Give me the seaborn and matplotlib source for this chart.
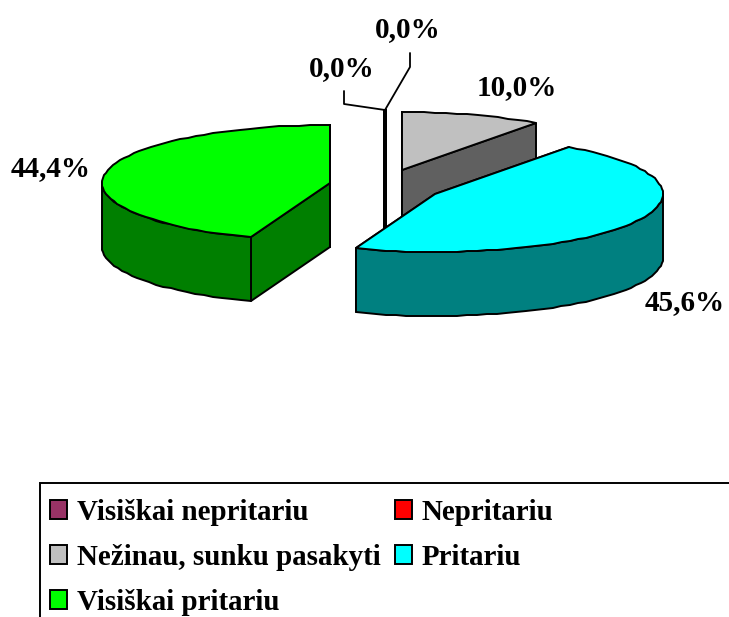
import numpy as np
import seaborn as sns
import matplotlib
matplotlib.use("Agg")
from matplotlib import pyplot as plt
from matplotlib.patches import Patch, Rectangle

# slices in pie order, clockwise from 12 o'clock
categories = ["Visiškai nepritariu", "Nepritariu", "Nežinau, sunku pasakyti", "Pritariu", "Visiškai pritariu"]
values = [0.0, 0.0, 10.0, 45.6, 44.4]
top_colors = ["#993366", "#FF0000", "#C0C0C0", "#00FFFF", "#00FF00"]
side_colors = ["#4D1A33", "#800000", "#606060", "#008080", "#007F00"]
legend_order = [0, 2, 4, 1, 3]

# exploded centre of every slice + where its label goes, in picture pixels
centers = [(384.5, 168), (386, 168), (402, 170), (435, 194), (330, 183)]
label_pos = [(342, 69), (408, 30), (517, 88), (685, 303), (51, 169)]
leaders = [[(385, 110), (344, 104), (344, 91)], [(385, 110), (410, 67), (410, 53)]]
RX, RY, DEPTH = 228, 58, 64

sns.set_theme(style="white")
plt.rcParams['font.family'] = ['Liberation Serif', 'DejaVu Serif']
sns.set_palette(top_colors)

fig = plt.figure(figsize=(7.29, 6.17), dpi=100)
ax = fig.add_axes([0, 0, 1, 1])
ax.set_xlim(0, 729)
ax.set_ylim(617, 0)
ax.axis("off")


def rim(center, a, b):
    # rim of the ellipse between two clockwise angles, snapped to pixels like the original
    n = max(2, int(abs(b - a) / 2.5))
    t = np.radians(np.linspace(a, b, n))
    return np.round(center[0] + RX * np.sin(t)), np.round(center[1] - RY * np.cos(t))


def draw_slice(center, a, b, top, side, z):
    kw = dict(edgecolor="black", linewidth=1.4, joinstyle="round", zorder=z)
    cx, cy = center
    # cut faces
    for ang in (a, b):
        x, y = rim(center, ang, ang)
        px, py = x[0], y[0]
        ax.fill([cx, px, px, cx], [cy, py, py + DEPTH, cy + DEPTH], facecolor=side, **kw)
    # outer wall, only the front half shows
    lo, hi = max(a, 90), min(b, 270)
    if hi > lo:
        x, y = rim(center, lo, hi)
        ax.fill(np.r_[x, x[::-1]], np.r_[y, y[::-1] + DEPTH], facecolor=side, **kw)
    x, y = rim(center, a, b)
    ax.fill(np.r_[cx, x], np.r_[cy, y], facecolor=top, **kw)


angles = np.cumsum([0] + values) * 3.6
for i in range(len(values)):
    draw_slice(centers[i], angles[i], angles[i + 1], top_colors[i], side_colors[i], i + 1)

for line in leaders:
    xs, ys = zip(*line)
    ax.plot(xs, ys, color="black", lw=1.3, zorder=10)

for v, (x, y) in zip(values, label_pos):
    ax.text(x, y, f"{v:.1f}%".replace(".", ","), ha="center", va="center",
            fontsize=21, fontweight="bold", color="black", zorder=11)

# legend frame runs off the picture on the right and bottom
ax.add_patch(Rectangle((40, 483), 760, 200, facecolor="white", edgecolor="black", lw=1.4, zorder=12))
handles = [Patch(facecolor=top_colors[i], edgecolor="black", lw=1.4, label=categories[i]) for i in legend_order]
leg = ax.legend(handles=handles, ncols=2, loc="upper left", bbox_to_anchor=(50, 499),
                bbox_transform=ax.transData, frameon=False, borderpad=0, borderaxespad=0,
                prop={"size": 20.9, "weight": "bold"}, handlelength=0.58, handleheight=0.62,
                handletextpad=0.35, labelspacing=0.62, columnspacing=0.48, labelcolor="black")
leg.set_zorder(13)

fig.savefig("out.png", dpi=100, facecolor="white")
